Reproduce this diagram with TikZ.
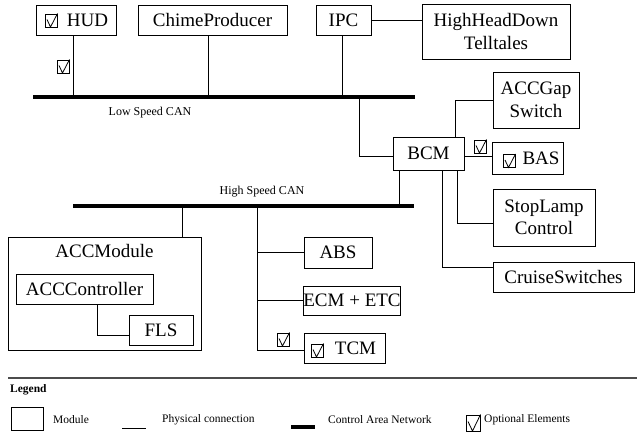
\documentclass[tikz,border=0pt]{standalone}
\usepackage{fontspec}
\setmainfont{Liberation Serif}
\begin{document}
\begin{tikzpicture}[x=1pt,y=-1pt]
\tikzset{
  box/.style={draw, line width=0.9pt, inner sep=0pt, font=\fontsize{19}{22.5}\selectfont, align=center},
  wire/.style={line width=0.8pt},
  bus/.style={line width=4pt},
  lbl/.style={font=\fontsize{12}{14}\selectfont, inner sep=0pt},
  legtxt/.style={font=\fontsize{11.5}{13}\selectfont, inner sep=0pt, anchor=west},
  optbox/.pic={
    \draw[line width=0.8pt] (0,0) rectangle (12,13);
    \draw[line width=0.8pt] (2,5.5) -- (5.5,13) -- (12.5,-0.5);
  },
  optboxbig/.pic={
    \draw[line width=0.8pt] (0,0) rectangle (14,16);
    \draw[line width=0.8pt] (2,6.5) -- (6.5,16) -- (14.5,-0.5);
  }
}
\useasboundingbox (0,0) rectangle (637,435);

% Low speed CAN
\coordinate (lsA) at (33,97);
\coordinate (lsB) at (415,97);
\draw[bus] (lsA) -- (lsB);
\node[lbl] (lslbl) at (150,113) {Low Speed CAN};

\node[box, minimum width=80pt, minimum height=30pt] (hud) at (76,20) {\hspace*{23pt}HUD};
\node[box, minimum width=149pt, minimum height=30pt] (chime) at (212.5,20) {ChimeProducer};
\node[box, minimum width=55pt, minimum height=30pt] (ipc) at (343.5,20) {IPC};
\node[box, minimum width=148pt, minimum height=55pt] (hhd) at (496,31.5) {HighHeadDown\\Telltales};

\coordinate (tHUD) at (73,97);
\coordinate (tCH) at (208,97);
\coordinate (tIPC) at (342,97);
\draw[wire] (hud.south -| tHUD) -- (tHUD);
\draw[wire] (chime.south -| tCH) -- (tCH);
\draw[wire] (ipc.south -| tIPC) -- (tIPC);
\draw[wire] (ipc.east) -- (ipc.east -| hhd.west);

% BCM cluster
\node[box, minimum width=71pt, minimum height=33pt] (bcm) at (428.5,153.5) {BCM};
\node[box, minimum width=86pt, minimum height=56pt] (accgap) at (536,100) {ACCGap\\Switch};
\node[box, minimum width=71pt, minimum height=32pt] (bas) at (527.5,158) {\hspace*{24pt}BAS\hspace*{-3pt}};
\node[box, minimum width=102pt, minimum height=57pt] (stop) at (544,217.5) {StopLamp\\Control};
\node[box, minimum width=141pt, minimum height=30pt] (cruise) at (563.5,277) {CruiseSwitches};

\coordinate (tBCM) at (359,97);
\draw[wire] (tBCM) |- ([yshift=-2.5pt]bcm.west);
\coordinate (gapx) at (455,0);
\draw[wire] (bcm.north -| gapx) |- (accgap.west);
\draw[wire] ([yshift=-2.5pt]bcm.east) -- ([yshift=-2.5pt]bcm.east -| bas.west);
\coordinate (stopx) at (457,223);
\draw[wire] (bcm.south -| stopx) -- (stopx) -- (stopx -| stop.west);
\coordinate (crx) at (442,267);
\draw[wire] (bcm.south -| crx) -- (crx) -- (crx -| cruise.west);

% High speed CAN
\coordinate (hsA) at (73,206);
\coordinate (hsB) at (414,206);
\draw[bus] (hsA) -- (hsB);
\node[lbl] (hslbl) at (262,192) {High Speed CAN};
\coordinate (hBCM) at (399,206);
\draw[wire] (bcm.south -| hBCM) -- (hBCM);

\node[box, minimum width=193pt, minimum height=113pt] (accmod) at (104.5,293.5) {};
\node[font=\fontsize{19}{22.5}\selectfont, inner sep=0pt] (accmodlbl) at (104.5,251) {ACCModule};
\node[box, minimum width=137pt, minimum height=30pt] (accctrl) at (84.5,289) {ACCController};
\node[box, minimum width=64pt, minimum height=30pt] (fls) at (161,330) {FLS};
\coordinate (cf) at (97,335);
\draw[wire] (accctrl.south -| cf) -- (cf) -- (cf -| fls.west);

\node[box, minimum width=68pt, minimum height=31pt] (abs) at (338,252.5) {ABS};
\node[box, minimum width=96pt, minimum height=29pt] (ecm) at (352,300.5) {ECM + ETC};
\node[box, minimum width=81pt, minimum height=30pt] (tcm) at (344.5,348) {\hspace*{22pt}TCM};

\coordinate (tACC) at (182,206);
\draw[wire] (tACC) -- (tACC |- accmod.north);
\coordinate (tTR) at (257,206);
\coordinate (trEnd) at (257,350);
\draw[wire] (tTR) -- (trEnd) -- (trEnd -| tcm.west);
\draw[wire] (tTR |- abs.west) -- (abs.west);
\draw[wire] (tTR |- ecm.west) -- (ecm.west);

% optional markers
\pic at (45,14) {optbox};
\pic at (57,60) {optbox};
\pic at (474,140) {optbox};
\pic at (503,154.5) {optbox};
\pic at (277,333) {optbox};
\pic at (311,344) {optbox};

% Legend
\coordinate (sepA) at (8,378);
\coordinate (sepB) at (637,378);
\draw[line width=2.5pt, color=black!70] (sepA) -- (sepB);
\node[font=\fontsize{11.5}{13}\selectfont\bfseries, inner sep=0pt, anchor=west] (leg) at (10,390) {Legend};
\node[draw, line width=0.9pt, minimum width=32pt, minimum height=23pt, inner sep=0pt] (legbox) at (27,418.5) {};
\node[legtxt] (legmod) at (53,420) {Module};
\coordinate (plA) at (122,428);
\coordinate (plB) at (146,428);
\draw[wire] (plA) -- (plB);
\node[legtxt] (legphys) at (162,420) {Physical connection};
\coordinate (caA) at (291,427);
\coordinate (caB) at (315,427);
\draw[bus] (caA) -- (caB);
\node[legtxt] (legcan) at (328,420) {Control Area Network};
\pic at (466,415) {optboxbig};
\node[legtxt] (legopt) at (484,420) {Optional Elements};
\end{tikzpicture}
\end{document}
